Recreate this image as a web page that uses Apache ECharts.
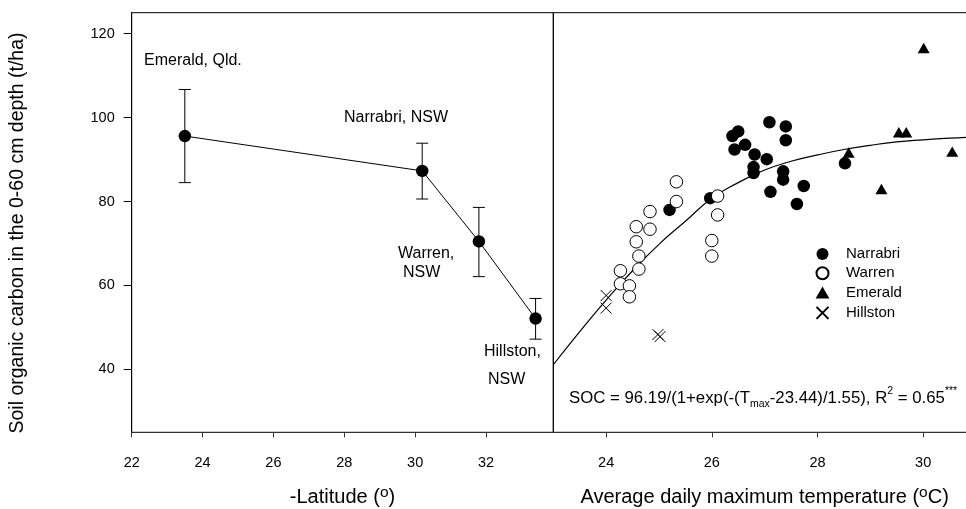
<!DOCTYPE html>
<html>
<head>
<meta charset="utf-8">
<script src="https://cdn.jsdelivr.net/npm/echarts@6/dist/echarts.min.js"></script>
<style>
html,body{margin:0;padding:0;background:#fff;}
#chart{width:966px;height:509px;}
</style>
</head>
<body>
<div id="chart"></div>
<script>
// ---- Left panel: SOC vs -latitude ----
const siteNames = ['Emerald, Qld.', 'Narrabri, NSW', 'Warren, NSW', 'Hillston, NSW'];
const latitude = [23.5, 30.2, 31.8, 33.4];
const socMean = [95.6, 87.3, 70.5, 52.1];
const errLow = [84.5, 80.6, 62.1, 47.2];
const errHigh = [106.7, 93.9, 78.6, 56.9];
const latTicks = [22, 24, 26, 28, 30, 32];

// ---- Right panel: SOC vs Tmax ----
const narrabriT = [27.09, 27.40, 27.40, 26.39, 26.50, 26.63, 26.43, 26.81, 27.04, 26.79, 26.79, 27.35, 27.35, 27.74, 27.11, 27.61, 28.52, 25.97, 25.20];
const narrabriSOC = [98.9, 97.9, 94.6, 95.6, 96.7, 93.5, 92.4, 91.2, 90.1, 88.2, 86.8, 87.2, 85.2, 83.7, 82.3, 79.4, 89.1, 80.8, 78.0];
const warrenT = [25.33, 25.33, 24.83, 24.57, 24.83, 24.57, 24.62, 24.62, 24.27, 24.27, 24.44, 24.44, 26.11, 26.11, 26.00, 26.00];
const warrenSOC = [84.7, 80.0, 77.6, 74.0, 73.4, 70.4, 67.0, 63.9, 63.5, 60.4, 59.9, 57.3, 81.3, 76.8, 70.7, 67.0];
const emeraldT = [30.01, 29.54, 29.68, 30.55, 28.59, 29.21];
const emeraldSOC = [116.6, 96.5, 96.5, 91.9, 91.7, 83.0];
const hillstonT = [24.0, 24.0, 24.98, 25.02];
const hillstonSOC = [57.6, 54.6, 48.3, 47.8];
// fitted curve
const fitT = [23.0, 23.5, 24.0, 24.5, 25.0, 25.5, 26.0, 26.5, 27.0, 27.5, 28.0, 28.5, 29.0, 29.5, 30.0, 30.5, 31.0];
const fitSOC = [41.1, 49.0, 56.5, 63.5, 69.8, 75.3, 80.8, 84.5, 87.5, 89.6, 91.1, 92.4, 93.4, 94.2, 94.7, 95.1, 95.4];
const tempTicks = [24, 26, 28, 30];
const socTicks = [40, 60, 80, 100, 120];

const zip = (a, b) => a.map((v, i) => [v, b[i]]);
const FONT = "'Liberation Sans', Arial, sans-serif";

const chart = echarts.init(document.getElementById('chart'), null, {renderer: 'canvas'});

const supRich = {sup: {fontSize: 15.5, verticalAlign: 'top', lineHeight: 14, fontFamily: FONT, color: '#000'}};

const option = {
  animation: false,
  backgroundColor: '#fff',
  textStyle: {fontFamily: FONT, color: '#000'},
  grid: [
    {left: 131.7, top: 12.7, width: 421.6, height: 419.6, outerBoundsMode: 'none', containLabel: false,
     show: true, borderColor: '#000', borderWidth: 1, backgroundColor: 'transparent'},
    {left: 553.3, top: 12.7, right: -10, height: 419.6, outerBoundsMode: 'none', containLabel: false,
     show: true, borderColor: '#000', borderWidth: 1, backgroundColor: 'transparent'}
  ],
  xAxis: [
    {
      type: 'value', gridIndex: 0, min: 22, max: 33.9,
      axisLine: {show: true, lineStyle: {color: '#333', width: 1}},
      axisTick: {show: true, length: 5, customValues: latTicks, lineStyle: {color: '#333'}},
      axisLabel: {customValues: latTicks, margin: 23, fontSize: 14.5, color: '#000', fontFamily: FONT},
      splitLine: {show: false},
      name: '-Latitude ({sup|o})',
      nameLocation: 'middle', nameGap: 52,
      nameTextStyle: {fontSize: 20, color: '#000', fontFamily: FONT, lineHeight: 26, rich: supRich}
    },
    {
      type: 'value', gridIndex: 1, min: 23, max: 31,
      axisLine: {show: true, lineStyle: {color: '#333', width: 1}},
      axisTick: {show: true, length: 5, customValues: tempTicks, lineStyle: {color: '#333'}},
      axisLabel: {customValues: tempTicks, margin: 23, fontSize: 14.5, color: '#000', fontFamily: FONT},
      splitLine: {show: false},
      name: 'Average daily maximum temperature ({sup|o}C)',
      nameLocation: 'middle', nameGap: 52,
      nameTextStyle: {fontSize: 20, color: '#000', fontFamily: FONT, lineHeight: 26, rich: supRich}
    }
  ],
  yAxis: [
    {
      type: 'value', gridIndex: 0, min: 25, max: 125,
      axisLine: {show: true, lineStyle: {color: '#000', width: 1}},
      axisTick: {show: true, length: 8, customValues: socTicks, lineStyle: {color: '#000'}},
      axisLabel: {customValues: socTicks, margin: 17, fontSize: 14.5, color: '#000', fontFamily: FONT},
      splitLine: {show: false},
      name: 'Soil organic carbon in the 0-60 cm depth (t/ha)',
      nameLocation: 'middle', nameGap: 104, nameRotate: 90,
      nameTextStyle: {fontSize: 19.5, color: '#000', fontFamily: FONT, padding: [0, 21, 0, 0]}
    },
    {
      type: 'value', gridIndex: 1, min: 25, max: 125,
      axisLine: {show: false}, axisTick: {show: false}, axisLabel: {show: false}, splitLine: {show: false}
    }
  ],
  legend: {
    data: ['Narrabri', 'Warren', 'Emerald', 'Hillston'],
    orient: 'vertical', left: 814, top: 246.5, padding: 0,
    itemWidth: 37, itemHeight: 12, itemGap: 4.3,
    textStyle: {fontSize: 15, color: '#000', fontFamily: FONT},
    selectedMode: false
  },
  graphic: [
    {type: 'text', x: 144, y: 61, style: {text: 'Emerald, Qld.', font: '16px ' + FONT, fill: '#000', verticalAlign: 'middle'}},
    {type: 'text', x: 344, y: 118, style: {text: 'Narrabri, NSW', font: '16px ' + FONT, fill: '#000', verticalAlign: 'middle'}},
    {type: 'text', x: 398, y: 254, style: {text: 'Warren,', font: '16px ' + FONT, fill: '#000', verticalAlign: 'middle'}},
    {type: 'text', x: 403, y: 273, style: {text: 'NSW', font: '16px ' + FONT, fill: '#000', verticalAlign: 'middle'}},
    {type: 'text', x: 484, y: 352, style: {text: 'Hillston,', font: '16px ' + FONT, fill: '#000', verticalAlign: 'middle'}},
    {type: 'text', x: 488, y: 380, style: {text: 'NSW', font: '16px ' + FONT, fill: '#000', verticalAlign: 'middle'}},
    {type: 'text', x: 569, y: 398, style: {
      text: 'SOC = 96.19/(1+exp(-(T{sub|max}-23.44)/1.55), R{sup|2} = 0.65{sup|***}',
      fontSize: 16.8, fontFamily: FONT, fill: '#000', verticalAlign: 'middle', lineHeight: 24,
      rich: {
        sub: {fontSize: 10.5, fontFamily: FONT, fill: '#000', verticalAlign: 'bottom', lineHeight: 12},
        sup: {fontSize: 10.5, fontFamily: FONT, fill: '#000', verticalAlign: 'top', lineHeight: 12}
      }
    }}
  ],
  series: [
    {
      name: 'latline', type: 'line', xAxisIndex: 0, yAxisIndex: 0,
      data: zip(latitude, socMean),
      symbol: 'circle', symbolSize: 12.5,
      itemStyle: {color: '#000', opacity: 1}, lineStyle: {color: '#000', width: 1}, z: 3
    },
    {
      name: 'errorbars', type: 'custom', xAxisIndex: 0, yAxisIndex: 0,
      data: latitude.map((x, i) => [x, errLow[i], errHigh[i]]),
      renderItem: function (params, api) {
        const lo = api.coord([api.value(0), api.value(1)]);
        const hi = api.coord([api.value(0), api.value(2)]);
        const w = 6;
        const st = {stroke: '#000', lineWidth: 1};
        return {type: 'group', children: [
          {type: 'line', shape: {x1: lo[0], y1: lo[1], x2: hi[0], y2: hi[1]}, style: st},
          {type: 'line', shape: {x1: lo[0] - w, y1: lo[1], x2: lo[0] + w, y2: lo[1]}, style: st},
          {type: 'line', shape: {x1: hi[0] - w, y1: hi[1], x2: hi[0] + w, y2: hi[1]}, style: st}
        ]};
      },
      z: 2
    },
    {
      name: 'fit', type: 'line', xAxisIndex: 1, yAxisIndex: 1,
      data: zip(fitT, fitSOC), smooth: true, showSymbol: false, symbol: 'none',
      lineStyle: {color: '#000', width: 1.2}, z: 1
    },
    {
      name: 'Narrabri', type: 'scatter', xAxisIndex: 1, yAxisIndex: 1,
      data: zip(narrabriT, narrabriSOC), symbol: 'circle', symbolSize: 12.5, symbolKeepAspect: true,
      itemStyle: {color: '#000', opacity: 1}, z: 3
    },
    {
      name: 'Warren', type: 'scatter', xAxisIndex: 1, yAxisIndex: 1,
      data: zip(warrenT, warrenSOC), symbol: 'circle', symbolSize: 12.5, symbolKeepAspect: true,
      itemStyle: {color: '#fff', borderColor: '#000', borderWidth: 1, opacity: 1}, z: 3
    },
    {
      name: 'Emerald', type: 'scatter', xAxisIndex: 1, yAxisIndex: 1,
      data: zip(emeraldT, emeraldSOC), symbol: 'path://M6,0L12,10.4L0,10.4Z', symbolSize: 12, symbolKeepAspect: true,
      itemStyle: {color: '#000', opacity: 1}, z: 3
    },
    {
      name: 'Hillston', type: 'scatter', xAxisIndex: 1, yAxisIndex: 1,
      data: zip(hillstonT, hillstonSOC), symbol: 'path://M0,0L10,10M10,0L0,10', symbolSize: 11, symbolKeepAspect: true,
      itemStyle: {color: 'none', borderColor: '#000', borderWidth: 1, opacity: 1}, z: 3
    }
  ]
};
chart.setOption(option);
</script>
</body>
</html>
